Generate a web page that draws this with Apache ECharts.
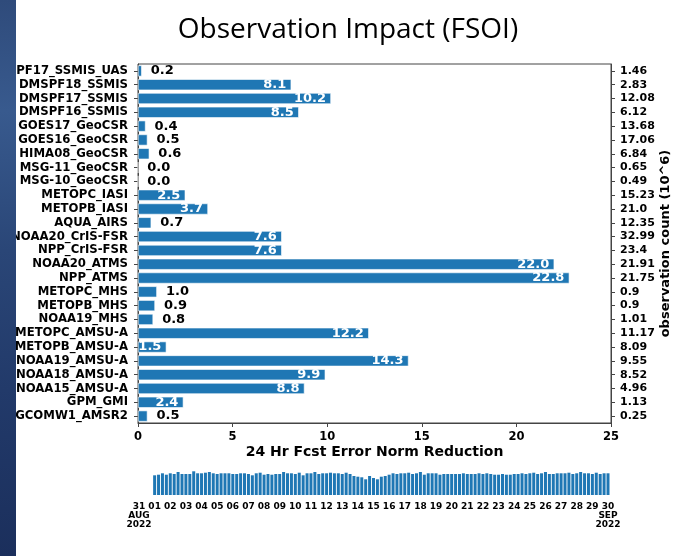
<!DOCTYPE html>
<html>
<head>
<meta charset="utf-8">
<script src="https://cdn.jsdelivr.net/npm/echarts@6/dist/echarts.min.js"></script>
<style>
html,body{margin:0;padding:0;background:#fff;}
#chart{width:673px;height:556px;}
</style>
</head>
<body>
<div id="chart"></div>
<script>
var categories = ['DMSPF17_SSMIS_UAS','DMSPF18_SSMIS','DMSPF17_SSMIS','DMSPF16_SSMIS','GOES17_GeoCSR','GOES16_GeoCSR','HIMA08_GeoCSR','MSG-11_GeoCSR','MSG-10_GeoCSR','METOPC_IASI','METOPB_IASI','AQUA_AIRS','NOAA20_CrIS-FSR','NPP_CrIS-FSR','NOAA20_ATMS','NPP_ATMS','METOPC_MHS','METOPB_MHS','NOAA19_MHS','METOPC_AMSU-A','METOPB_AMSU-A','NOAA19_AMSU-A','NOAA18_AMSU-A','NOAA15_AMSU-A','GPM_GMI','GCOMW1_AMSR2'];
var impact = [0.2,8.1,10.2,8.5,0.4,0.5,0.6,0.0,0.0,2.5,3.7,0.7,7.6,7.6,22.0,22.8,1.0,0.9,0.8,12.2,1.5,14.3,9.9,8.8,2.4,0.5];
var obsCount = ['1.46','2.83','12.08','6.12','13.68','17.06','6.84','0.65','0.49','15.23','21.0','12.35','32.99','23.4','21.91','21.75','0.9','0.9','1.01','11.17','8.09','9.55','8.52','4.96','1.13','0.25'];
var xTicks = [0,5,10,15,20,25];
var dayLabels = ['31\nAUG\n2022','01','02','03','04','05','06','07','08','09','10','11','12','13','14','15','16','17','18','19','20','21','22','23','24','25','26','27','28','29','30\nSEP\n2022'];
// per-cycle (6-hourly) counts, Sep 1 00Z onward
var cycleCounts = [19.7,20.3,21.7,20.3,21.7,21,23,21,21,21,23.7,21.7,21.7,22.3,23,21.7,21,21.7,21.7,21.7,21,21,21.7,21.7,21,19.7,21.7,22.3,20.3,21,
20.3,21,21,23,21.7,21.7,21,22.3,19.7,21.7,21.7,23,21,21.7,21.7,22.3,21.7,21.7,21,22.3,21,19,18.3,17.7,15.7,19,17,15.7,18.3,19,
20.3,21.7,21,21.7,21.7,22.3,21,21.7,23,20.3,21.7,21.7,21.7,20.3,21,21,21,21,21,21.7,21,21,21,21.7,21,21.7,21,20.3,20.3,21,
20.3,20.3,21,21,21.7,21,21.7,22.3,21,21.7,23,21,21,21.7,21.7,21.7,22.3,21,21.7,23,21.7,21.7,21,22.3,21,21.7,21.7];
var cyclesPerDay = 4;
var cycleHours = ['00Z','06Z','12Z','18Z'];

var FONT = 'DejaVu Sans';
var chart = echarts.init(document.getElementById('chart'), null, {renderer:'canvas'});

var barData = impact.map(function(v){
  var inside = v >= 1.5;
  return {
    value: v,
    label: inside ? {position:'insideRight', distance:5, color:'#fff'} : {position:'right', distance:9, color:'#000'}
  };
});

// cycle categories: Aug 31 00Z ... Sep 30 00Z
var cycleCats = [];
for (var d = 0; d < dayLabels.length; d++) {
  for (var h = 0; h < cyclesPerDay; h++) {
    if (d === dayLabels.length - 1 && h > 0) break;
    cycleCats.push(d + '_' + cycleHours[h]);
  }
}
var cycleData = [];
for (var k = 0; k < cyclesPerDay; k++) cycleData.push(null); // Aug 31 (no data)
cycleCounts.forEach(function(v){ cycleData.push(v); });

var option = {
  animation:false,
  backgroundColor:'#fff',
  title:{
    text:'Observation Impact (FSOI)',
    left:343, top:11, textAlign:'center',
    textStyle:{fontFamily:'Open Sans', fontWeight:'normal', fontSize:28, color:'#000'}
  },
  grid:[
    {left:138, right:62, top:64, bottom:133, show:true, borderColor:'#444', borderWidth:1, backgroundColor:'transparent', outerBoundsMode:'none', containLabel:false},
    {left:139, right:65, top:470, bottom:61, outerBoundsMode:'none', containLabel:false}
  ],
  xAxis:[
    {type:'value', gridIndex:0, min:0, max:25, interval:5,
     axisLine:{show:true, lineStyle:{color:'#444'}},
     axisTick:{show:true, length:4, lineStyle:{color:'#444'}},
     splitLine:{show:false},
     axisLabel:{fontFamily:FONT, fontWeight:'bold', fontSize:11.5, color:'#000', margin:8,
       formatter:function(v){ return xTicks.indexOf(v) >= 0 ? String(v) : ''; }},
     name:'24 Hr Fcst Error Norm Reduction', nameLocation:'middle', nameGap:22, nameMoveOverlap:false,
     nameTextStyle:{fontFamily:FONT, fontWeight:'bold', fontSize:14, color:'#000'}
    },
    {type:'category', gridIndex:1, data:cycleCats, boundaryGap:false,
     axisLine:{show:false}, axisTick:{show:false}, splitLine:{show:false},
     axisLabel:{fontFamily:FONT, fontWeight:'bold', fontSize:9, color:'#000', margin:7, lineHeight:9,
       verticalAlign:'top', interval:0,
       formatter:function(v, idx){ return idx % cyclesPerDay === 0 ? dayLabels[idx / cyclesPerDay] : ''; }}
    }
  ],
  yAxis:[
    {type:'category', gridIndex:0, data:categories, inverse:true,
     axisLine:{show:true, lineStyle:{color:'#444'}},
     axisTick:{show:true, length:4, alignWithLabel:true, lineStyle:{color:'#444'}},
     axisLabel:{fontFamily:FONT, fontWeight:'bold', fontSize:11.7, color:'#000', margin:10, interval:0}
    },
    {type:'category', gridIndex:0, data:obsCount, inverse:true, position:'right',
     axisLine:{show:true, lineStyle:{color:'#444'}},
     axisTick:{show:true, length:4, alignWithLabel:true, lineStyle:{color:'#444'}},
     axisLabel:{fontFamily:FONT, fontWeight:'bold', fontSize:11, color:'#000', margin:9, interval:0},
     name:'observation count (10^6)', nameLocation:'middle', nameGap:48, nameRotate:90, nameMoveOverlap:false,
     nameTextStyle:{fontFamily:FONT, fontWeight:'bold', fontSize:13, color:'#000'}
    },
    {type:'value', gridIndex:1, min:0, max:25, show:false}
  ],
  series:[
    {type:'bar', xAxisIndex:0, yAxisIndex:0, data:barData, barWidth:'80%',
     itemStyle:{color:'#1f77b4', borderColor:'#fff', borderWidth:0.6},
     label:{show:true, fontFamily:FONT, fontWeight:'bold', fontSize:13,
       formatter:function(p){ return p.value.toFixed(1); }}
    },
    {type:'bar', xAxisIndex:1, yAxisIndex:2, data:cycleData, barWidth:3,
     itemStyle:{color:'#1f77b4'}, clip:false}
  ],
  graphic:[
    {type:'rect', left:0, top:0, z:100, shape:{width:16, height:556},
     style:{fill:new echarts.graphic.LinearGradient(0,0,0,1,[
       {offset:0, color:'#2f4b7b'},{offset:0.2, color:'#385a8e'},{offset:0.45, color:'#2a4677'},
       {offset:0.7, color:'#223a6a'},{offset:1, color:'#1b2f5c'}])}}
  ]
};
chart.setOption(option);
</script>
</body>
</html>
